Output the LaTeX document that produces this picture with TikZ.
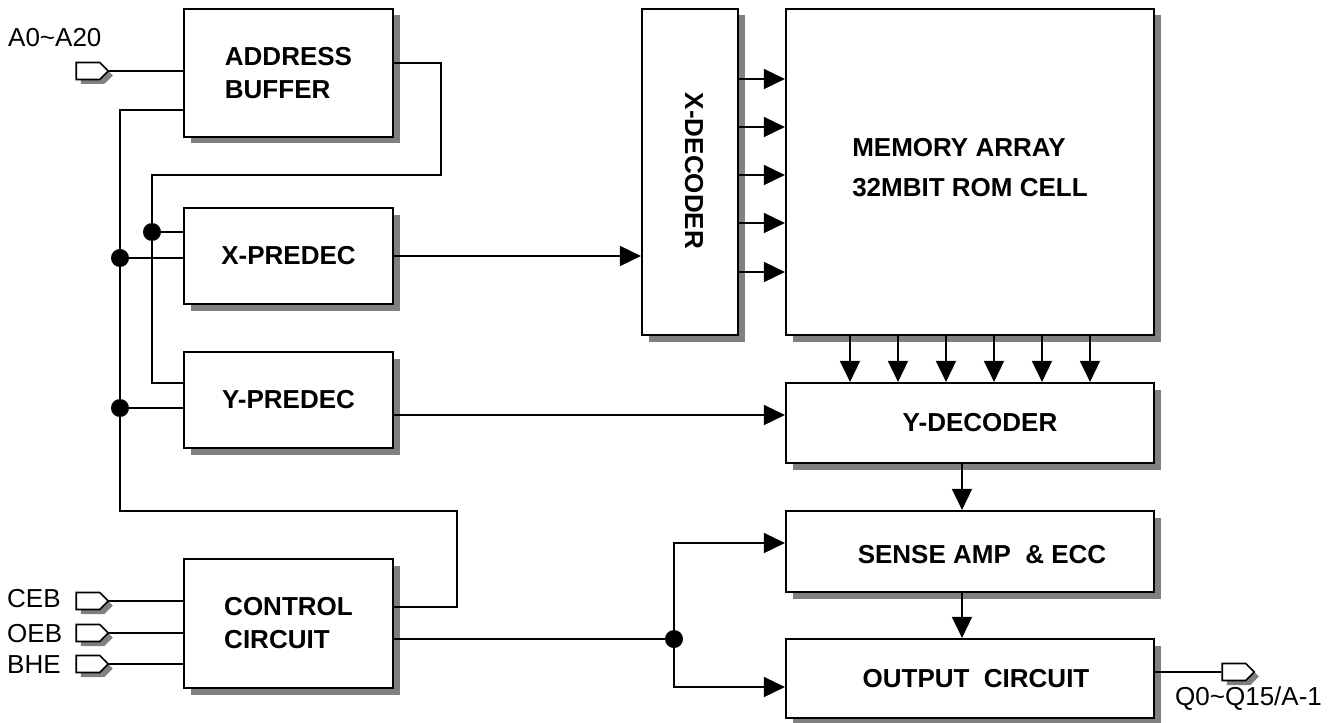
\documentclass[tikz,border=0pt]{standalone}
\usepackage{fontspec}
\setmainfont{Liberation Sans}
\usetikzlibrary{arrows.meta,shapes.symbols,shadows}
\begin{document}
\begin{tikzpicture}[x=1pt,y=-1pt,
  blk/.style={draw,line width=2.2pt,fill=white,inner sep=0,
    font=\bfseries\fontsize{26}{33}\selectfont,align=left,
    drop shadow={shadow xshift=6.5pt,shadow yshift=-6.5pt,fill=black!50,opacity=1}},
  bt/.style={font=\bfseries\fontsize{26}{33}\selectfont,align=left,inner sep=0},
  pin/.style={signal,signal to=east,draw,line width=1.6pt,fill=white,
    minimum width=32pt,minimum height=17pt,inner sep=0,
    drop shadow={shadow xshift=4.5pt,shadow yshift=-4.5pt,fill=black!50,opacity=1}},
  wire/.style={line width=1.7pt},
  arr/.style={wire,-{Triangle[length=21pt,width=20pt]}},
  dot/.style={circle,fill=black,inner sep=0,minimum size=18pt},
  lbl/.style={font=\fontsize{26}{30}\selectfont,inner sep=0}]
\useasboundingbox (0,0) rectangle (1337,722);

% blocks
\node[blk,minimum width=209pt,minimum height=128pt] (ab) at (288.5,73) {ADDRESS\\BUFFER};
\node[blk,minimum width=209pt,minimum height=96pt] (xp) at (288.5,256) {X-PREDEC};
\node[blk,minimum width=209pt,minimum height=96pt] (yp) at (288.5,400) {Y-PREDEC};
\node[blk,minimum width=209pt,minimum height=129pt] (cc) at (288.5,623.5) {CONTROL\\CIRCUIT};
\node[blk,minimum width=96pt,minimum height=326pt,
  label={[bt,rotate=-90,xshift=-1pt,yshift=4pt]center:X-DECODER}] (xd) at (690,172) {};
\node[blk,minimum width=368pt,minimum height=326pt,
  label={[bt,font=\bfseries\fontsize{26}{40}\selectfont,yshift=4pt]center:MEMORY ARRAY\\32MBIT ROM CELL}] (ma) at (970,172) {};
\node[blk,minimum width=368pt,minimum height=80pt,
  label={[bt,xshift=10pt]center:Y-DECODER}] (yd) at (970,423) {};
\node[blk,minimum width=368pt,minimum height=81pt,
  label={[bt,xshift=12pt,yshift=-3pt]center:SENSE AMP\ \ \& ECC}] (sa) at (970,551.5) {};
\node[blk,minimum width=368pt,minimum height=79pt,
  label={[bt,xshift=6pt]center:OUTPUT\ \ CIRCUIT}] (oc) at (970,678.5) {};

% pins and labels
\node[pin] (pa) at (88,71) {};
\node[pin] (pceb) at (88,601) {};
\node[pin] (poeb) at (88,633) {};
\node[pin] (pbhe) at (88,664) {};
\node[pin] (pq) at (1234,672) {};
\node[lbl,anchor=base west] (ta) at (8,47) {A0\textasciitilde A20};
\node[lbl,anchor=base west] (tceb) at (7,607) {CEB};
\node[lbl,anchor=base west] (toeb) at (7,642) {OEB};
\node[lbl,anchor=base west] (tbhe) at (7,673) {BHE};
\node[lbl,anchor=base west] (tq) at (1175,705) {Q0\textasciitilde Q15/A-1};

\draw[wire] (pa.east) -- (pa.east -| ab.west);
\draw[wire] (pceb.east) -- (pceb.east -| cc.west);
\draw[wire] (poeb.east) -- (poeb.east -| cc.west);
\draw[wire] (pbhe.east) -- (pbhe.east -| cc.west);
\draw[wire] (oc.east |- pq) -- (pq.west);

% left bus (address buffer -> control circuit)
\coordinate (bt0) at (120,110);
\coordinate (b1) at (120,511);
\coordinate (b2) at (457,511);
\coordinate (b3) at (457,607);
\draw[wire] (ab.west |- bt0) -- (bt0) -- (b1) -- (b2) -- (b3) -- (b3 -| cc.east);

% right bus (address buffer -> predecoders)
\coordinate (r0) at (441,63);
\coordinate (r1) at (441,175);
\coordinate (r2) at (152,175);
\coordinate (r3) at (152,383);
\draw[wire] (ab.east |- r0) -- (r0) -- (r1) -- (r2) -- (r3) -- (r3 -| yp.west);

% junction dots
\node[dot] (d1) at (152,232) {};
\node[dot] (d2) at (120,258) {};
\node[dot] (d3) at (120,408) {};
\draw[wire] (d1.center) -- (d1.center -| xp.west);
\draw[wire] (d2.center) -- (d2.center -| xp.west);
\draw[wire] (d3.center) -- (d3.center -| yp.west);

% predecoders -> decoders
\draw[arr] (xp.east) -- (xp.east -| xd.west);
\coordinate (yo) at (393,415);
\draw[arr] (yp.east |- yo) -- (yo -| yd.west);

% X-decoder -> memory array
\foreach \yy in {79,127,175,223,272}{
  \coordinate (t) at (0,\yy);
  \draw[arr] (xd.east |- t) -- (ma.west |- t);
}
% memory array -> Y-decoder
\foreach \xx in {850,898,946,994,1042,1090}{
  \coordinate (t) at (\xx,0);
  \draw[arr] (ma.south -| t) -- (yd.north -| t);
}
\coordinate (cx) at (962,0);
\draw[arr] (yd.south -| cx) -- (sa.north -| cx);
\draw[arr] (sa.south -| cx) -- (oc.north -| cx);

% control circuit -> sense amp / output
\node[dot] (j) at (674,639) {};
\coordinate (jt) at (674,543);
\coordinate (jb) at (674,687);
\draw[wire] (cc.east |- j) -- (j.center);
\draw[arr] (j.center) -- (jt) -- (jt -| sa.west);
\draw[arr] (j.center) -- (jb) -- (jb -| oc.west);
\end{tikzpicture}
\end{document}
